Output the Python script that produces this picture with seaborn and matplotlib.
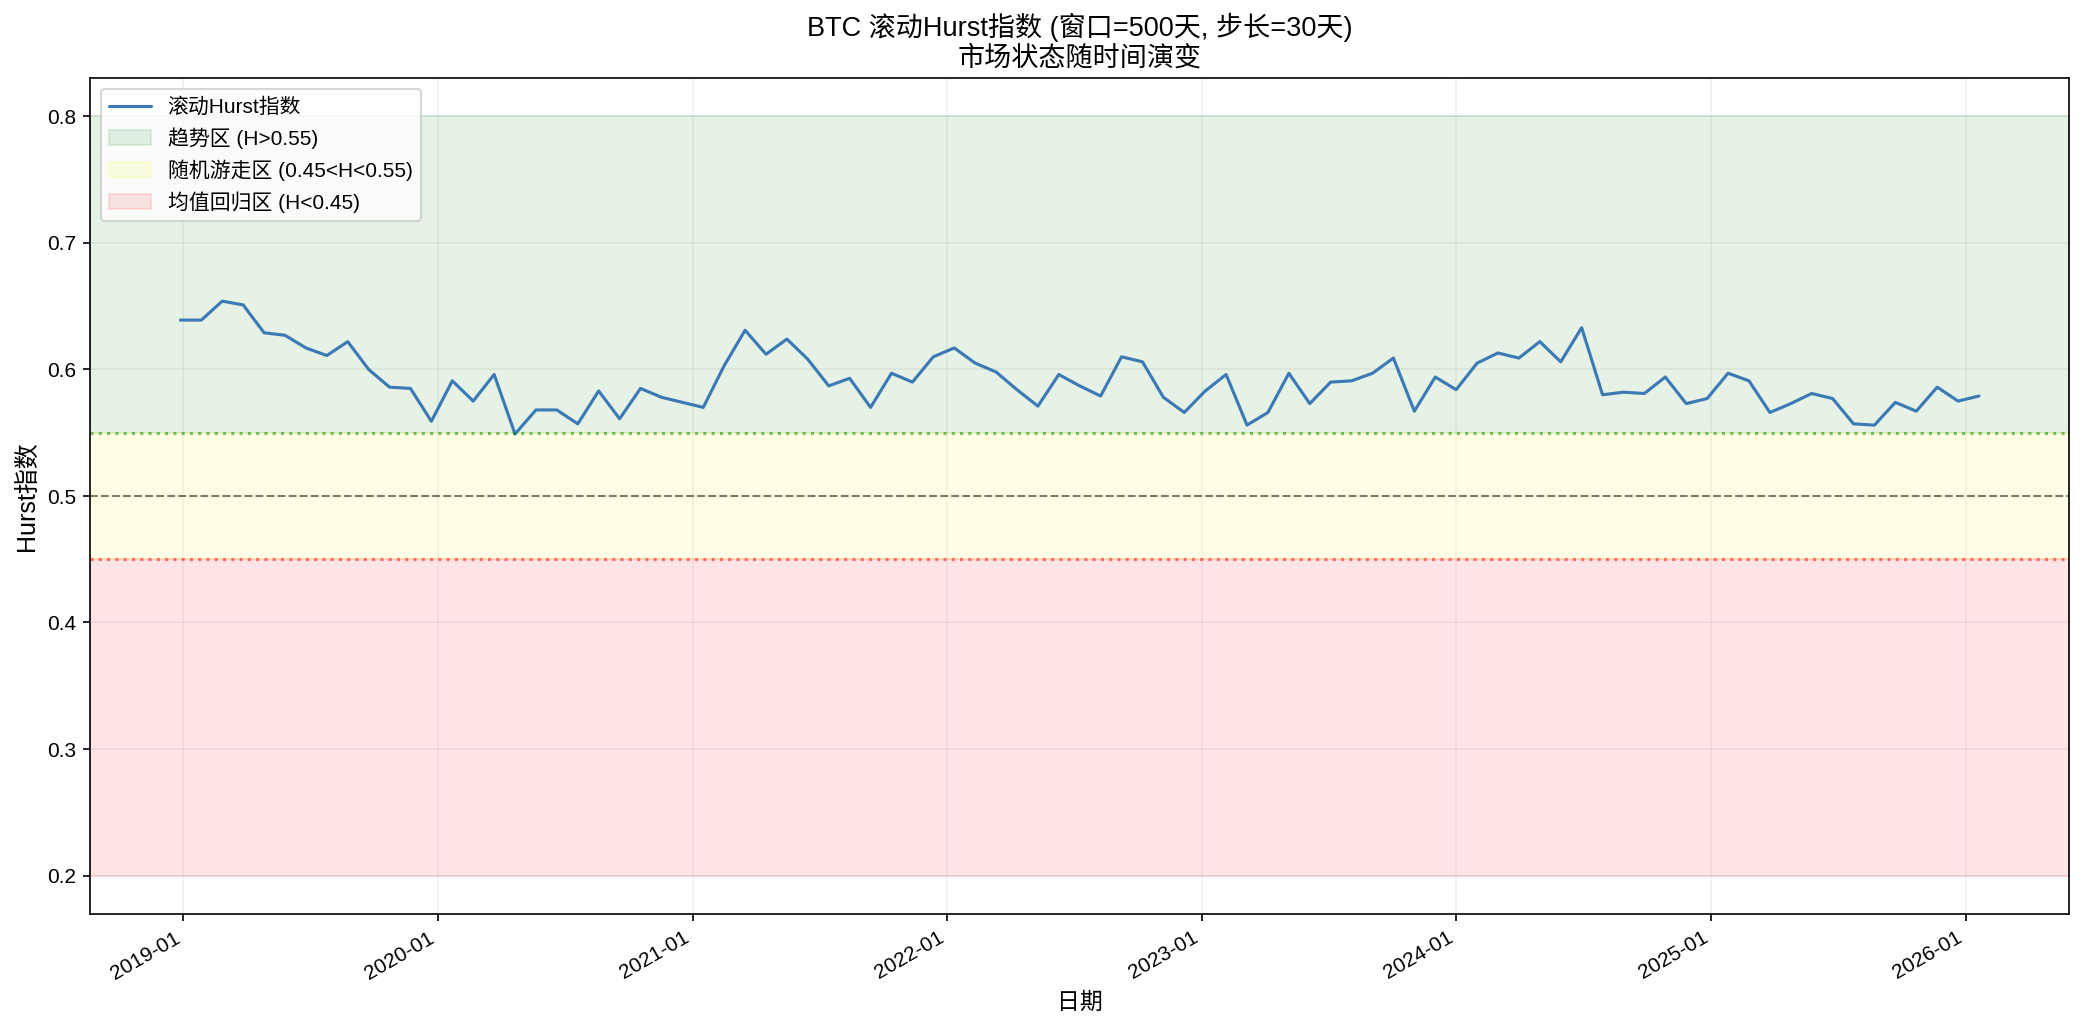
"""Rolling Hurst exponent chart for BTC."""

import matplotlib

matplotlib.use("Agg")
import matplotlib.dates as mdates
import matplotlib.pyplot as plt
import pandas as pd
import seaborn as sns

start_date = "2018-12-28"
step_days = 30
hurst_values = [
    0.639, 0.639, 0.654, 0.651, 0.629, 0.627, 0.617, 0.611, 0.622, 0.600,
    0.586, 0.585, 0.559, 0.591, 0.575, 0.596, 0.549, 0.568, 0.568, 0.557,
    0.583, 0.561, 0.585, 0.578, 0.574, 0.570, 0.603, 0.631, 0.612, 0.624,
    0.608, 0.587, 0.593, 0.570, 0.597, 0.590, 0.610, 0.617, 0.605, 0.598,
    0.584, 0.571, 0.596, 0.587, 0.579, 0.610, 0.606, 0.578, 0.566, 0.583,
    0.596, 0.556, 0.566, 0.597, 0.573, 0.590, 0.591, 0.597, 0.609, 0.567,
    0.594, 0.584, 0.605, 0.613, 0.609, 0.622, 0.606, 0.633, 0.580, 0.582,
    0.581, 0.594, 0.573, 0.577, 0.597, 0.591, 0.566, 0.573, 0.581, 0.577,
    0.557, 0.556, 0.574, 0.567, 0.586, 0.575, 0.579,
]
dates = pd.date_range(start_date, periods=len(hurst_values), freq=f"{step_days}D")

zone_labels = ["趋势区 (H>0.55)", "随机游走区 (0.45<H<0.55)", "均值回归区 (H<0.45)"]
zone_bounds = [(0.55, 0.8), (0.45, 0.55), (0.2, 0.45)]
zone_colors = ["green", "yellow", "red"]

sns.set_style("ticks")
plt.rcParams["font.family"] = ["Liberation Sans", "Noto Sans CJK SC", "DejaVu Sans"]
plt.rcParams["axes.unicode_minus"] = False
for key in ("text.color", "axes.labelcolor", "xtick.color", "ytick.color", "axes.edgecolor"):
    plt.rcParams[key] = "black"

df = pd.DataFrame({"date": dates, "hurst": hurst_values})

fig = plt.figure(figsize=(13.9, 6.867), dpi=150)
ax = fig.add_axes([0.0434, 0.1131, 0.9489, 0.8107])

sns.lineplot(data=df, x="date", y="hurst", color="#3d7ab5", linewidth=1.5,
             label="滚动Hurst指数", ax=ax)

for label, (lo, hi), color in zip(zone_labels, zone_bounds, zone_colors):
    ax.axhspan(lo, hi, color=color, alpha=0.1, label=label)

ax.axhline(0.55, color="green", linestyle=":", alpha=0.5)
ax.axhline(0.45, color="red", linestyle=":", alpha=0.5)
ax.axhline(0.5, color="black", linestyle="--", alpha=0.5, linewidth=1)

ax.set_title("BTC 滚动Hurst指数 (窗口=500天, 步长=30天)\n市场状态随时间演变", fontsize=13)
ax.set_xlabel("日期", fontsize=11)
ax.set_ylabel("Hurst指数", fontsize=12)
ax.grid(True, alpha=0.3)
for spine in ax.spines.values():
    spine.set_visible(True)
    spine.set_linewidth(0.8)

ax.xaxis.set_major_locator(mdates.YearLocator())
ax.xaxis.set_major_formatter(mdates.DateFormatter("%Y-%m"))
for lbl in ax.get_xticklabels():
    lbl.set_rotation(30)
    lbl.set_ha("right")
ax.tick_params(labelsize=10, length=3.5)

ax.legend(loc="upper left", fontsize=10, framealpha=0.8)

fig.savefig("out.png", dpi=150)
